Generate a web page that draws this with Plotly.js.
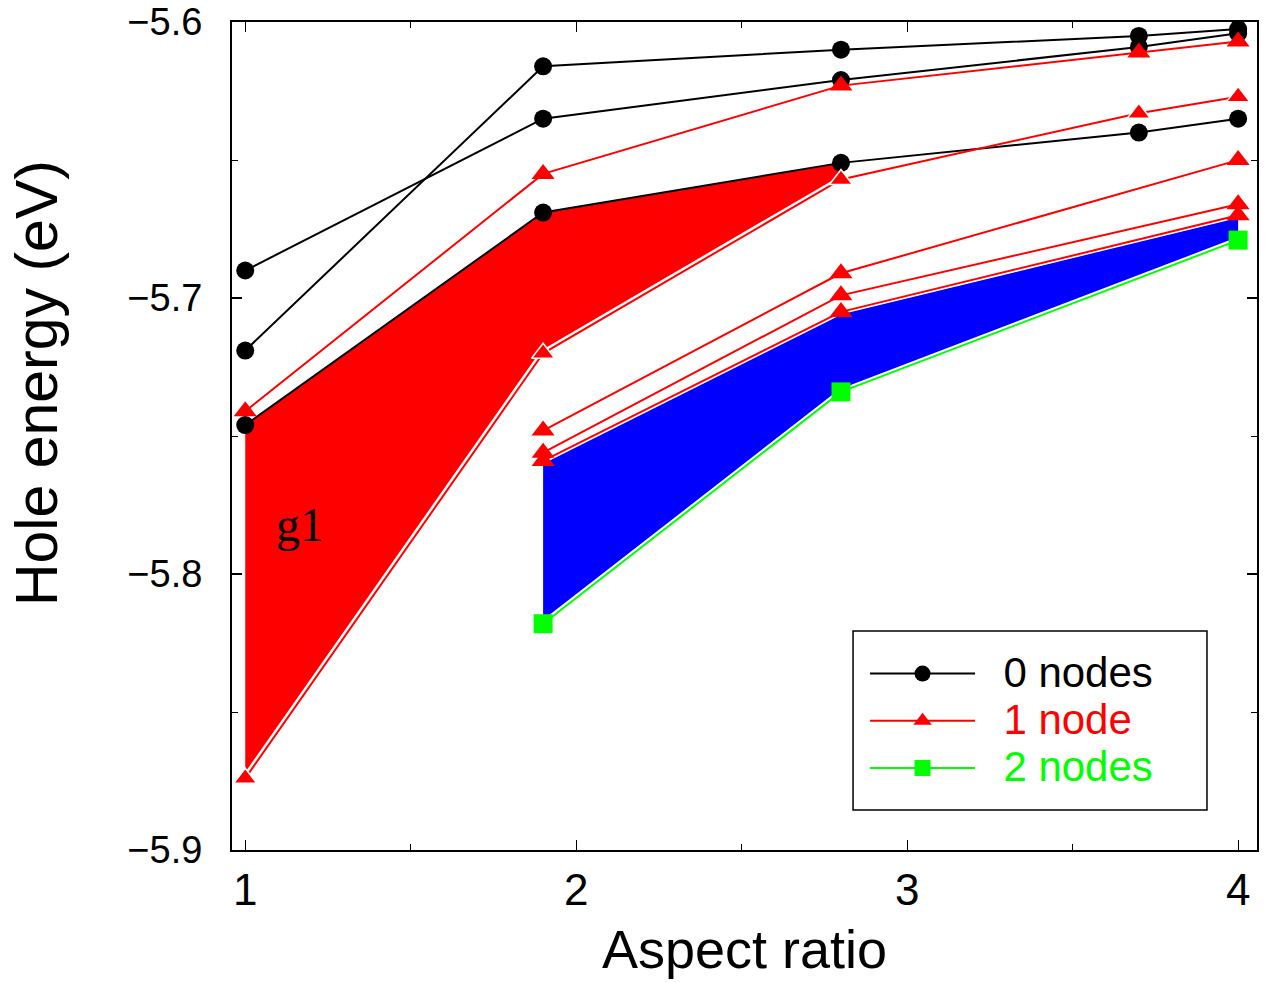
<!DOCTYPE html>
<html>
<head>
<meta charset="utf-8">
<script src="https://cdn.plot.ly/plotly-3.0.1.min.js"></script>
<style>html,body{margin:0;padding:0;background:#fff;}</style>
</head>
<body>
<div id="chart" style="width:1274px;height:983px;"></div>
<script>
// ---- Data (aspect ratio vs hole energy, eV) ----
var xFull = [1, 1.9, 2.8, 3.7, 4];
var xPart = [1.9, 2.8, 4];

// 0 nodes (black circles)
var black1 = [-5.719, -5.616, -5.610, -5.605, -5.6025];
var black2 = [-5.690, -5.635, -5.621, -5.609, -5.604];
var black3 = [-5.746, -5.669, -5.651, -5.640, -5.635];

// 1 node (red triangles)
var red1 = [-5.741, -5.655, -5.623, -5.611, -5.607];
var red2 = [-5.874, -5.720, -5.657, -5.633, -5.627];
var red3 = [-5.748, -5.691, -5.650];
var red4 = [-5.756, -5.699, -5.666];
var red5 = [-5.759, -5.705, -5.670];

// 2 nodes (green squares)
var green1 = [-5.818, -5.734, -5.679];

var legendNames = ['0 nodes', '1 node', '2 nodes'];
var xTickVals = [1, 2, 3, 4];
var yTickVals = [-5.9, -5.8, -5.7, -5.6];
var yTickText = ['\u22125.9', '\u22125.8', '\u22125.7', '\u22125.6'];
var annotationText = 'g1';

// ---- Styles ----
var BLACK = '#000000', RED = '#ff0000', GREEN = '#00ff00', BLUE = '#0000ff';
var SANS = 'Liberation Sans, Arial, Helvetica, sans-serif';

function legendLabel(text, color) {
  return '<span style="font-size:42px;color:' + color + '">\u00a0\u00a0' + text + '</span>';
}
function lineTrace(x, y, color, symbol, size, opts) {
  opts = opts || {};
  return {
    type: 'scatter', mode: 'lines+markers', x: x, y: y,
    line: {color: color, width: 2},
    marker: {color: color, symbol: symbol, size: size,
             line: opts.mline || {width: 0}},
    name: opts.name || '', showlegend: !!opts.name, hoverinfo: 'skip'
  };
}
function haloTrace(x, y, w) {
  return {type: 'scatter', mode: 'lines', x: x, y: y,
          line: {color: '#ffffff', width: w}, showlegend: false, hoverinfo: 'skip'};
}
function fillTrace(xTop, yTop, xBot, yBot, color) {
  return {
    type: 'scatter', mode: 'lines',
    x: xTop.concat(xBot.slice().reverse()),
    y: yTop.concat(yBot.slice().reverse()),
    fill: 'toself', fillcolor: color, line: {width: 0, color: color},
    showlegend: false, hoverinfo: 'skip'
  };
}

var n3 = 3;
var traces = [
  // shaded bands
  fillTrace(xFull.slice(0, n3), black3.slice(0, n3), xFull.slice(0, n3), red2.slice(0, n3), RED),
  fillTrace(xPart, red5, xPart, green1, BLUE),
  // white halos
  haloTrace(xFull, red2, 7),
  haloTrace(xPart, red5, 5),
  haloTrace(xPart, green1, 6),
  // 0 nodes
  lineTrace(xFull, black1, BLACK, 'circle', 18, {name: legendLabel(legendNames[0], BLACK)}),
  lineTrace(xFull, black2, BLACK, 'circle', 18),
  lineTrace(xFull, black3, BLACK, 'circle', 18),
  // 1 node
  lineTrace(xFull, red1, RED, 'triangle-up', 20, {name: legendLabel(legendNames[1], RED)}),
  lineTrace(xFull, red2, RED, 'triangle-up', 20, {mline: {color: '#ffffff', width: 1.5}}),
  lineTrace(xPart, red3, RED, 'triangle-up', 20),
  lineTrace(xPart, red4, RED, 'triangle-up', 20),
  lineTrace(xPart, red5, RED, 'triangle-up', 20),
  // 2 nodes
  lineTrace(xPart, green1, GREEN, 'square', 19, {name: legendLabel(legendNames[2], GREEN)})
];

var axisCommon = {
  showline: true, linecolor: BLACK, linewidth: 2, mirror: 'ticks',
  ticks: 'inside', ticklen: 10, tickwidth: 1.2, tickcolor: BLACK,
  showgrid: false, zeroline: false, automargin: false,
  ticklabeloverflow: 'allow'
};

var layout = {
  width: 1274, height: 983,
  margin: {l: 232, r: 17, t: 22, b: 133},
  paper_bgcolor: '#ffffff', plot_bgcolor: '#ffffff',
  xaxis: Object.assign({}, axisCommon, {
    range: [0.96, 4.057], tickvals: xTickVals, ticktext: xTickVals.map(String),
    ticklabelstandoff: 0,
    tickfont: {family: SANS, size: 44, color: BLACK},
    minor: {ticks: 'inside', ticklen: 6, tickwidth: 1, tickcolor: BLACK, dtick: 0.5, tick0: 1, showgrid: false},
    title: {text: 'Aspect ratio', font: {family: SANS, size: 54, color: BLACK}, standoff: 17}
  }),
  yaxis: Object.assign({}, axisCommon, {
    range: [-5.9, -5.59995], tickvals: yTickVals, ticktext: yTickText,
    ticklabelstandoff: 20,
    tickfont: {family: SANS, size: 38, color: BLACK},
    minor: {ticks: 'inside', ticklen: 6, tickwidth: 1, tickcolor: BLACK, dtick: 0.05, tick0: -5.9, showgrid: false},
    title: {text: ''}
  }),
  legend: {
    x: 0.6176, y: 0.2476, xanchor: 'left', yanchor: 'top',
    bgcolor: 'rgba(0,0,0,0)', borderwidth: 0,
    font: {family: SANS, size: 34, color: BLACK},
    itemwidth: 105, tracegroupgap: 0
  },
  shapes: [{
    type: 'rect', xref: 'paper', yref: 'paper',
    x0: 0.6059, x1: 0.9512, y0: 0.0483, y1: 0.2645,
    line: {color: BLACK, width: 1.5}, fillcolor: '#ffffff', layer: 'above'
  }],
  annotations: [
    {x: 1.166, y: -5.782, xref: 'x', yref: 'y', text: annotationText, showarrow: false,
     font: {family: 'Liberation Serif, Times New Roman, serif', size: 48, color: BLACK}},
    {x: -0.1902, y: 0.564, xref: 'paper', yref: 'paper', xanchor: 'center', yanchor: 'middle',
     text: 'Hole energy (eV)', textangle: -90, showarrow: false,
     font: {family: SANS, size: 59, color: BLACK}}
  ],
  showlegend: true
};

Plotly.newPlot('chart', traces, layout, {displayModeBar: false, staticPlot: true});
</script>
</body>
</html>
